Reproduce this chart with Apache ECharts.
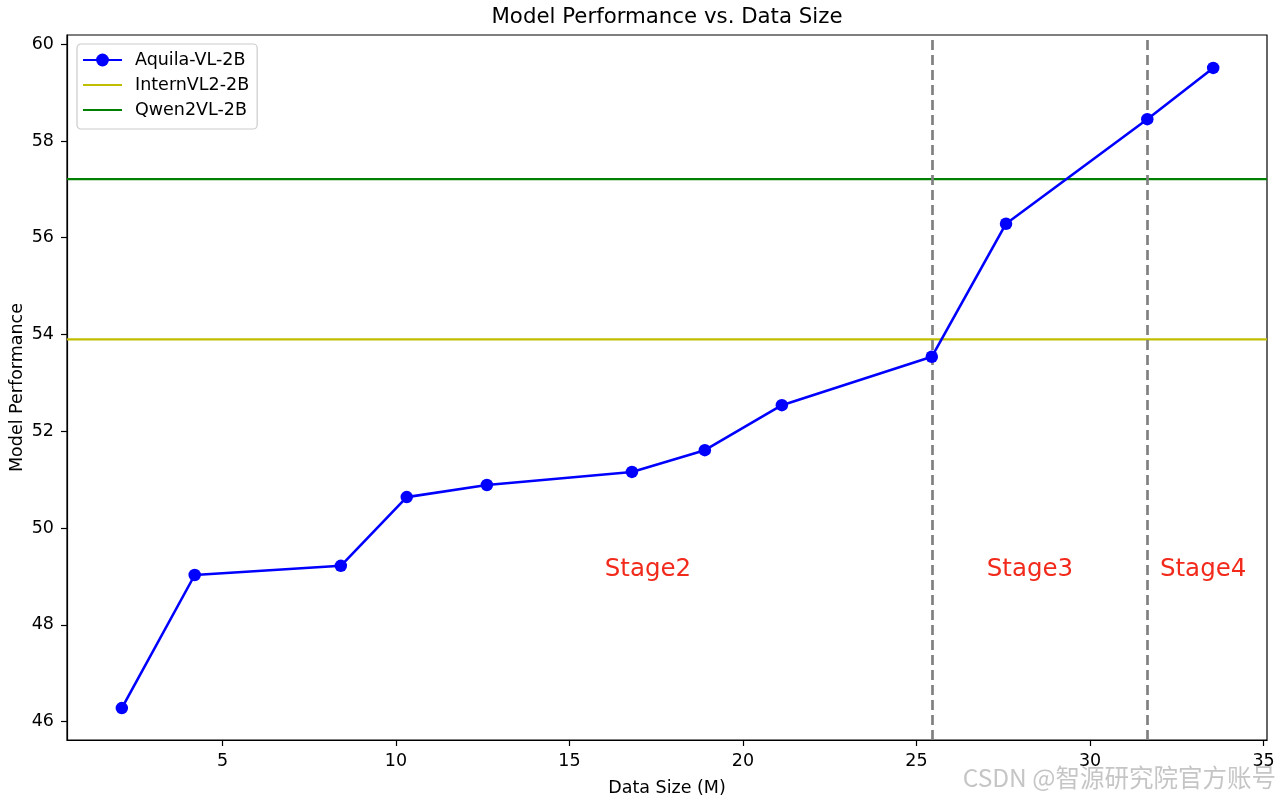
<!DOCTYPE html>
<html>
<head>
<meta charset="utf-8">
<script src="https://cdn.jsdelivr.net/npm/echarts@6/dist/echarts.min.js"></script>
<style>html,body{margin:0;padding:0;background:#fff}#c{width:1280px;height:799px}</style>
</head>
<body>
<div id="c"></div>
<script>
// ---- data ----
const dataSize = [2.10, 4.20, 8.41, 10.31, 12.62, 16.80, 18.90, 21.12, 25.44, 27.58, 31.65, 33.55];
const aquila   = [46.28, 49.03, 49.22, 50.64, 50.89, 51.16, 51.61, 52.54, 53.54, 56.29, 58.45, 59.51];
const internVL2 = 53.90;
const qwen2VL = 57.21;
const stageBounds = [25.44, 31.65];
const stageNames = ['Stage2', 'Stage3', 'Stage4'];
const stageX = [17.26, 28.27, 33.26];
const stageY = [49.14, 49.14, 49.14];
const xTicks = [5, 10, 15, 20, 25, 30, 35];
const yTicks = [46, 48, 50, 52, 54, 56, 58, 60];
const xMin = 0.52, xMax = 35.1, yMin = 45.62, yMax = 60.19;

const FONT = 'DejaVu Sans';
const chart = echarts.init(document.getElementById('c'), null, {renderer: 'canvas'});

const axisCommon = {
  axisLine: {show: true, onZero: false, lineStyle: {color: '#000', width: 1.2}},
  axisTick: {show: true, length: 6, lineStyle: {color: '#000', width: 1.2}},
  splitLine: {show: false},
  nameMoveOverlap: false,
  nameTextStyle: {fontFamily: FONT, fontSize: 17.5, color: '#000'}
};

chart.setOption({
  animation: false,
  backgroundColor: '#fff',
  grid: {left: 67, right: 13, top: 35, bottom: 59, show: true, borderColor: '#000', borderWidth: 1.2,
         containLabel: false, outerBoundsMode: 'none'},
  xAxis: Object.assign({}, axisCommon, {
    type: 'value', min: xMin, max: xMax,
    name: 'Data Size (M)', nameLocation: 'middle', nameGap: 39,
    axisTick: Object.assign({}, axisCommon.axisTick, {customValues: xTicks}),
    axisLabel: {customValues: xTicks, margin: 12, fontFamily: FONT, fontSize: 17.5, color: '#000'}
  }),
  yAxis: Object.assign({}, axisCommon, {
    type: 'value', min: yMin, max: yMax,
    name: 'Model Performance', nameLocation: 'middle', nameGap: 41,
    axisTick: Object.assign({}, axisCommon.axisTick, {customValues: yTicks}),
    axisLabel: {customValues: yTicks, margin: 13, fontFamily: FONT, fontSize: 17.5, color: '#000'}
  }),
  legend: {
    orient: 'vertical', left: 77, top: 44,
    data: [
      {name: 'Aquila-VL-2B'},
      {name: 'InternVL2-2B', itemStyle: {opacity: 0}},
      {name: 'Qwen2VL-2B', itemStyle: {opacity: 0}}
    ],
    itemWidth: 39, itemHeight: 16, itemGap: 7,
    padding: [7, 8, 10, 5],
    borderColor: '#cccccc', borderWidth: 1.2, borderRadius: 4,
    backgroundColor: 'rgba(255,255,255,0.8)',
    textStyle: {fontFamily: FONT, fontSize: 17.5, color: '#000', padding: [0, 0, 0, 8]}
  },
  graphic: [
    {type: 'text', x: 667, y: 17.5, style: {text: 'Model Performance vs. Data Size', font: '21.3px "DejaVu Sans"', fill: '#000', textAlign: 'center', textVerticalAlign: 'middle'}},
    {type: 'text', x: 1276, y: 778, style: {text: 'CSDN @智源研究院官方账号', font: '24.5px "Noto Sans CJK SC"', fill: 'rgba(150,150,150,0.55)', textAlign: 'right', textVerticalAlign: 'middle'}}
  ],
  series: [
    {
      name: 'Aquila-VL-2B', type: 'line',
      data: dataSize.map((x, i) => [x, aquila[i]]),
      symbol: 'circle', symbolSize: 12.5, showSymbol: true,
      itemStyle: {color: '#0000ff'},
      lineStyle: {color: '#0000ff', width: 2.6},
      z: 5,
      markLine: {
        silent: true, symbol: 'none', label: {show: false},
        lineStyle: {color: '#808080', type: [10, 5], width: 2.7},
        data: stageBounds.map(v => ({xAxis: v}))
      }
    },
    {
      name: 'InternVL2-2B', type: 'line', showSymbol: false, symbol: 'none',
      data: [[xMin, internVL2], [xMax, internVL2]],
      itemStyle: {color: '#bfbf00'}, lineStyle: {color: '#bfbf00', width: 2.2}, z: 3
    },
    {
      name: 'Qwen2VL-2B', type: 'line', showSymbol: false, symbol: 'none',
      data: [[xMin, qwen2VL], [xMax, qwen2VL]],
      itemStyle: {color: '#008000'}, lineStyle: {color: '#008000', width: 2.2}, z: 3
    },
    {
      name: 'stages', type: 'scatter', symbolSize: 0, silent: true,
      itemStyle: {opacity: 1},
      data: stageNames.map((n, i) => ({name: n, value: [stageX[i], stageY[i]]})),
      label: {show: true, position: 'inside', formatter: p => p.name, fontFamily: FONT, fontSize: 24.5, color: '#f22a1c', opacity: 1}
    }
  ]
});
</script>
</body>
</html>
